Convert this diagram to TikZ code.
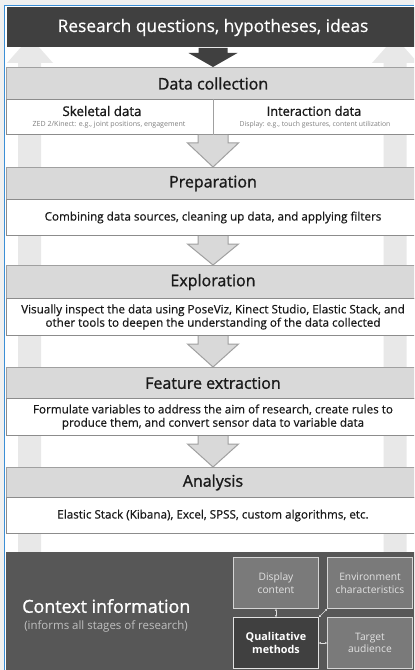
\documentclass[tikz,border=0pt]{standalone}
\usepackage{fontspec}
\setmainfont{Open Sans}
\newfontfamily\semib[FakeBold=1.2]{Open Sans}
\newfontfamily\medf[FakeBold=0.5]{Open Sans}
\usetikzlibrary{calc,arrows.meta}
\definecolor{bgg}{HTML}{F0F0F0}
\definecolor{winblue}{HTML}{3C8FD6}
\definecolor{darkbox}{HTML}{404040}
\definecolor{hdrfill}{HTML}{D9D9D9}
\definecolor{hdrline}{HTML}{A0A0A0}
\definecolor{bodyline}{HTML}{8C8C8C}
\definecolor{sidearrow}{HTML}{E8E8E8}
\definecolor{ctxfill}{HTML}{575757}
\definecolor{smallfill}{HTML}{7A7A7A}
\definecolor{smallline}{HTML}{D5D5D5}
\definecolor{smalltxt}{HTML}{E2E2E2}
\definecolor{txt}{HTML}{1A1A1A}
\definecolor{greytxt}{HTML}{7F7F7F}
\definecolor{subtxt}{HTML}{C0C0C0}
\newcommand\blockarr[2]{%
  \draw[blockarrow] ($(#1.south)+(-15,0)$) -- ($(#1.south)+(-15,8)$) -- ($(#1.south)+(-25.5,8)$) -- (#2.north) -- ($(#1.south)+(25.5,8)$) -- ($(#1.south)+(15,8)$) -- ($(#1.south)+(15,0)$);}
\begin{document}
\begin{tikzpicture}[x={(0.75pt,0)},y={(0,-0.75pt)},
  box/.style={rectangle, draw=hdrline, line width=0.75pt, inner sep=0pt, anchor=north west, minimum width=413*0.75pt, text=txt, align=center},
  hdr/.style={box, fill=hdrfill, font=\semib\fontsize{12}{14}\selectfont},
  body/.style={box, fill=white, draw=bodyline, font=\medf\fontsize{8.75}{10}\selectfont},
  blockarrow/.style={fill=hdrfill, draw=hdrline, line width=0.75pt, line join=miter},
  lbl/.style={inner sep=0pt, align=center},
  small/.style={rectangle, draw=smallline, fill=smallfill, line width=0.75pt, minimum width=85*0.75pt, minimum height=51*0.75pt, anchor=north west, text=smalltxt, align=center, inner sep=0pt, font=\fontsize{7.7}{9.5}\selectfont},
  link/.style={smalltxt, line width=0.5pt, {Latex[length=1.3pt,width=2pt]}-{Latex[length=1.3pt,width=2pt]}}
]
\useasboundingbox (0,0) rectangle (414,670);
\clip (0,0) rectangle (414,670);
\fill[bgg] (0,0) rectangle (414,670);
\fill[white] (4,5) rectangle (414,670);
\draw[winblue, line width=1.1pt] (4.6,670) -- (4.6,5.6) -- (414,5.6);
% side up arrows
\fill[sidearrow] (18,555) -- (18,63) -- (7,63) -- (30,37) -- (53,63) -- (41,63) -- (41,555) -- cycle;
\fill[sidearrow] (383.5,555) -- (383.5,63) -- (372,63) -- (395,37) -- (418,63) -- (406.5,63) -- (406.5,555) -- cycle;
% title
\node[box, fill=darkbox, draw=none, minimum height=40*0.75pt, text=white, font=\medf\fontsize{13}{15}\selectfont] (title) at (6,7) {Research questions, hypotheses, ideas};
% data collection
\node[hdr, minimum height=32*0.75pt] (dch) at (6,67) {Data collection};
\node[body, minimum height=35*0.75pt] (dcb) at (6,99) {};
\draw[hdrline, line width=0.75pt] (dcb.north) -- (dcb.south);
\node[lbl, text=txt, font=\semib\fontsize{10}{12}\selectfont] (skel) at (102,111) {Skeletal data};
\node[lbl, text=greytxt, font=\fontsize{5.3}{6.5}\selectfont] (skelsub) at (109,124.5) {ZED 2/Kinect: e.g., joint positions, engagement};
\node[lbl, text=txt, font=\semib\fontsize{9.6}{12}\selectfont] (inter) at (314,111) {Interaction data};
\node[lbl, text=greytxt, font=\fontsize{5.15}{6.5}\selectfont] (intersub) at (315,124.5) {Display: e.g., touch gestures, content utilization};
% dark arrow
\draw[fill=darkbox, draw=none] ($(title.south)+(-14.5,0)$) -- ($(title.south)+(-14.5,5)$) -- ($(title.south)+(-24.5,5)$) -- (dch.north) -- ($(title.south)+(24.5,5)$) -- ($(title.south)+(14.5,5)$) -- ($(title.south)+(14.5,0)$) -- cycle;
% preparation
\node[hdr, minimum height=32*0.75pt] (prh) at (6,167) {Preparation};
\node[body, minimum height=36*0.75pt] (prb) at (6,199) {Combining data sources, cleaning up data, and applying filters};
% exploration
\node[hdr, minimum height=33*0.75pt] (exh) at (6,265) {Exploration};
\node[body, minimum height=37*0.75pt] (exb) at (6,298) {Visually inspect the data using PoseViz, Kinect Studio, Elastic Stack, and\\other tools to deepen the understanding of the data collected};
% feature extraction
\node[hdr, minimum height=31*0.75pt] (feh) at (6,367) {Feature extraction};
\node[body, minimum height=37*0.75pt] (feb) at (6,398) {Formulate variables to address the aim of research, create rules to\\produce them, and convert sensor data to variable data};
% analysis
\node[hdr, minimum height=30*0.75pt] (anh) at (6,467) {Analysis};
\node[body, minimum height=36*0.75pt] (anb) at (6,497) {Elastic Stack (Kibana), Excel, SPSS, custom algorithms, etc.};
% block arrows
\blockarr{dcb}{prh}
\blockarr{prb}{exh}
\blockarr{exb}{feh}
\blockarr{feb}{anh}
% context
\node[rectangle, fill=ctxfill, inner sep=0pt, anchor=north west, minimum width=413*0.75pt, minimum height=125*0.75pt] (ctx) at (6,552) {};
\node[lbl, anchor=west, text=white, font=\semib\fontsize{13.4}{15}\selectfont] (ctxt) at (22,606) {Context information};
\node[lbl, anchor=west, text=subtxt, font=\fontsize{8.6}{10}\selectfont] (ctxs) at (24,626) {(informs all stages of research)};
\node[small] (disp) at (233,557) {Display\\content};
\node[small] (env) at (327,557) {Environment\\characteristics};
\node[small, fill=darkbox, draw=smalltxt, text=white, font=\bfseries\fontsize{8.1}{10}\selectfont] (qual) at (233,617) {Qualitative\\methods};
\node[small] (targ) at (327,617) {Target\\audience};
\draw[link] (disp.south) -- (qual.north);
\draw[link] (qual.east) -- (targ.west);
\draw[link] (qual.north east) -- (env.south west);
\end{tikzpicture}
\end{document}
